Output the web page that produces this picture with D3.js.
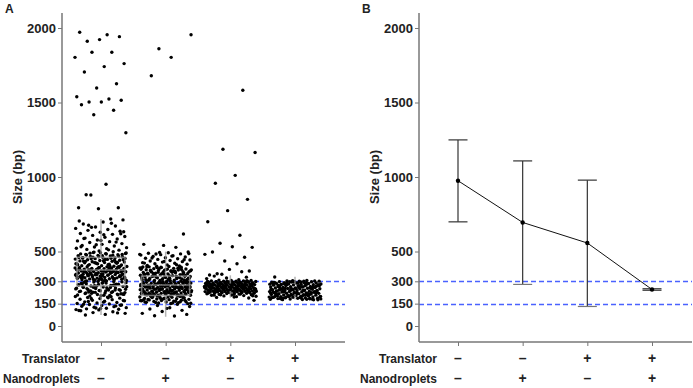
<!DOCTYPE html>
<html><head><meta charset="utf-8">
<script src="https://cdn.jsdelivr.net/npm/d3@7"></script>
<style>
body{margin:0;background:#fff;}
svg text{font-family:"Liberation Sans",Arial,sans-serif;font-weight:bold;}
</style></head>
<body><svg id="c" width="693" height="388"></svg>
<script>
const groups = ["g1","g2","g3","g4"];
const translator = ["–","–","+","+"];
const nanodroplets = ["–","+","–","+"];
const yTicks = [0,150,300,500,1000,1500,2000];
const refLines = [150,300];

// Panel A: individual fragment sizes (bp)
const sizesG1 = [1803,1955,1911,1942,1922,1971,1837,1837,1761,1741,1705,1626,1597,1539,1523,1503,1515,1503,1485,1448,1418,1297,951,881,794,787,794,718,879,
712,698,685,671,664,655,648,642,636,629,621,615,608,601,596,590,584,577,571,566,560,553,548,541,537,530,526,519,514,509,503,705,690,662,633,612,587,563,545,522,511,676,619,574,532,
498,493,487,486,481,479,474,472,470,466,463,461,458,457,452,449,447,445,441,440,437,434,431,430,426,424,421,419,416,414,412,409,405,404,401,496,490,483,477,468,465,459,454,451,444,438,435,428,423,418,411,407,402,492,484,475,462,453,446,433,427,417,410,403,489,480,471,456,442,425,
399,397,396,394,392,391,389,387,386,384,382,381,379,377,376,374,372,370,369,367,366,364,362,361,359,357,355,354,352,350,349,347,345,344,342,340,338,337,335,333,331,330,328,326,324,323,321,319,317,316,314,312,310,309,307,305,303,302,398,393,388,383,378,373,368,363,358,353,348,343,339,334,329,325,320,315,311,306,301,395,385,375,365,356,346,336,327,318,308,390,371,351,332,313,380,360,341,322,304,371,358,346,333,389,377,362,350,339,
298,295,291,288,284,281,279,275,272,268,265,262,259,255,252,249,246,243,240,237,233,230,227,224,221,218,214,211,208,205,202,296,289,283,276,270,263,257,251,244,238,231,225,219,212,206,293,280,267,254,241,228,216,203,286,273,260,247,235,222,209,299,278,258,236,215,290,264,242,226,
198,194,191,187,184,180,177,173,169,166,162,158,155,151,148,144,141,137,133,130,126,123,119,115,112,108,104,196,185,171,160,146,135,121,110,189,164,139,117,102,96,90,85,78,74,88];

const sizesG2 = [1861,1955,1803,1680,617,541,548,528,483,
497,492,488,484,479,476,471,467,463,458,455,451,447,443,440,436,432,429,425,421,418,414,410,407,403,494,481,469,456,445,433,422,411,401,486,
399,397,394,392,390,387,385,383,380,378,376,373,371,369,366,364,362,359,357,355,352,350,348,345,343,341,338,336,334,331,329,327,324,322,320,317,315,313,310,308,306,303,301,398,391,384,377,370,363,356,349,342,335,328,321,314,307,302,395,381,367,353,339,325,311,388,360,332,304,374,346,318,396,368,340,312,382,354,326,305,389,361,333,309,375,347,319,393,365,337,316,379,351,323,
299,297,296,294,293,291,290,288,287,285,284,282,281,279,278,276,275,273,272,270,269,267,266,264,263,261,260,258,257,255,254,252,251,249,248,246,245,243,242,240,239,237,236,234,233,231,230,228,227,225,224,222,221,219,218,216,215,213,212,210,209,207,206,204,203,201,298,292,286,280,274,268,262,256,250,244,238,232,226,220,214,208,202,295,283,271,259,247,235,223,211,289,277,265,253,241,229,217,205,296,284,272,260,248,236,224,212,200,291,279,267,255,243,231,219,207,287,263,239,215,293,269,245,221,281,257,233,209,
199,197,195,193,191,189,187,185,183,181,179,177,175,173,171,169,167,165,163,161,159,157,155,153,151,198,190,182,174,166,158,150,194,178,162,186,170,154,196,172,184,160,
146,138,131,122,114,105,97,85,67,69,78,118];

const sizesG3 = [1582,1186,1164,1011,958,850,774,700,609,555,528,532,497,461,436,481,418,351,369,380,342,364,347,172,195,335,328,322,318,
310,308,306,305,303,302,300,299,298,297,296,295,294,293,292,291,290,289,288,287,286,285,284,283,282,281,280,279,278,277,276,275,274,273,272,271,270,269,268,267,266,265,264,263,262,261,260,259,258,257,256,255,254,253,252,251,250,249,248,247,246,245,244,243,242,241,240,239,238,237,236,235,234,233,232,231,230,229,228,227,226,225,224,223,222,221,220,218,216,214,212,210,208,206,204,202,200,
301,298,296,293,291,288,286,283,281,278,276,273,271,268,266,263,261,258,256,253,251,248,246,243,241,299,295,290,285,280,275,270,265,260,255,250,245,240,235,230,225,219,213,207,297,292,287,282,277,272,267,262,257,252,247,242,237,232,227,221,215,209,203,294,284,274,264,254,244,234,224,289,279,269,259,249,239,229,304,300,296,289,281,273,265,257,249,241,233,197,192,188];

const sizesG4 = [329,
305,303,301,300,298,297,295,294,292,291,289,288,286,285,283,282,280,279,277,276,274,273,271,270,268,267,265,264,262,261,259,258,256,255,253,252,250,249,247,246,244,243,241,240,238,237,235,234,232,231,229,228,226,225,223,222,220,219,217,216,214,213,211,210,208,207,205,204,202,201,199,198,196,195,193,192,190,189,187,186,184,183,181,180,178,177,
302,296,290,284,278,272,266,260,254,248,242,236,230,224,218,212,206,200,194,188,182,176,
299,293,287,281,275,269,263,257,251,245,239,233,227,221,215,209,203,197,191,185,179,
304,287,270,253,236,219,202,185,298,281,264,247,230,213,196,179,292,275,258,241,224,207,190,
301,284,267,250,233,216,199,182,295,278,261,244,227,210,193,176,289,272,255,238,221,204,187];

// Box plot summaries (bp)
const boxQ1 = [270,205,235,215];
const boxMed = [376,275,262,255];
const boxQ3 = [461,335,285,280];
const whiskLo = [74,62,190,178];
const whiskHi = [718,499,340,330];

// Panel B: mean and error range (bp)
const meanB = [975,695,557,245];
const errLo = [699,279,131,240];
const errHi = [1249,1108,979,250];

const svg = d3.select("#c");
const axisCol = "#777";
const txtCol = "#222";

function panel(opts){
  const g = svg.append("g");
  const y = d3.scaleLinear().domain([0,2000]).range([326,28]);
  const x = d3.scalePoint().domain(groups).range([opts.x0, opts.x0 + 194]);
  // ref lines
  refLines.forEach(v=>{
    g.append("line").attr("x1",opts.ax).attr("x2",opts.right)
     .attr("y1",Math.round(y(v))+0.5).attr("y2",Math.round(y(v))+0.5)
     .attr("stroke","#4a62ff").attr("stroke-width",1.4).attr("stroke-dasharray","5,3");
  });
  // y axis
  const ya = g.append("g").attr("transform",`translate(${opts.ax},0)`)
    .call(d3.axisLeft(y).tickValues(yTicks).tickSize(4).tickPadding(2).tickFormat(d3.format("d")));
  ya.select(".domain").remove();
  ya.selectAll(".tick line").attr("stroke",axisCol);
  ya.selectAll(".tick text").attr("fill",txtCol).style("font-size","13px");
  g.append("line").attr("x1",opts.ax).attr("x2",opts.ax).attr("y1",13).attr("y2",342)
    .attr("stroke",axisCol).attr("stroke-width",1.5);
  // x axis
  const xa = g.append("g").attr("transform","translate(0,342)")
    .call(d3.axisBottom(x).tickSize(4).tickFormat(""));
  xa.select(".domain").remove();
  xa.selectAll(".tick line").attr("stroke",axisCol);
  g.append("line").attr("x1",opts.ax).attr("x2",opts.right).attr("y1",342).attr("y2",342)
    .attr("stroke",axisCol).attr("stroke-width",1.5);
  // y label
  g.append("text").attr("transform",`translate(${opts.ax-40},177) rotate(-90)`)
    .attr("text-anchor","middle").attr("fill",txtCol).style("font-size","13px").text("Size (bp)");
  // panel letter
  g.append("text").attr("x",opts.letterX).attr("y",13).attr("fill",txtCol).style("font-size","12px").text(opts.letter);
  // row labels
  g.append("text").attr("x",opts.ax+18).attr("y",363).attr("text-anchor","end").attr("fill",txtCol)
    .style("font-size","12.5px").attr("textLength",58).attr("lengthAdjust","spacingAndGlyphs").text("Translator");
  g.append("text").attr("x",opts.ax+18).attr("y",383).attr("text-anchor","end").attr("fill",txtCol)
    .style("font-size","12.5px").attr("textLength",77).attr("lengthAdjust","spacingAndGlyphs").text("Nanodroplets");
  g.selectAll(".tr").data(groups).enter().append("text")
    .attr("x",d=>x(d)).attr("y",363).attr("text-anchor","middle").attr("fill",txtCol).style("font-size","14px")
    .text((d,i)=>translator[i]);
  g.selectAll(".nd").data(groups).enter().append("text")
    .attr("x",d=>x(d)).attr("y",383).attr("text-anchor","middle").attr("fill",txtCol).style("font-size","14px")
    .text((d,i)=>nanodroplets[i]);
  return {g,x,y};
}

// Panel A
const A = panel({x0:101, ax:62, right:345, letter:"A", letterX:5});
const bw = 24;
const allSizes = [sizesG1,sizesG2,sizesG3,sizesG4];
allSizes.forEach((arr,gi)=>{
  const cx = A.x(groups[gi]);
  A.g.append("g").selectAll("circle").data(arr).enter().append("circle")
    .attr("cx",(d,i)=>cx + (((i*0.6180339887 + gi*0.37) % 1) - 0.5)*52)
    .attr("cy",d=>A.y(d)).attr("r",1.7).attr("fill","#000");
});
groups.forEach((k,i)=>{
  const cx = A.x(k);
  const bg = A.g.append("g").attr("stroke","#999").attr("stroke-width",1.5).attr("fill","none").attr("stroke-opacity",0.75);
  bg.append("line").attr("x1",cx).attr("x2",cx).attr("y1",A.y(whiskHi[i])).attr("y2",A.y(boxQ3[i]));
  bg.append("line").attr("x1",cx).attr("x2",cx).attr("y1",A.y(boxQ1[i])).attr("y2",A.y(whiskLo[i]));
  if (i < 2) {
    bg.append("rect").attr("x",cx-bw).attr("width",2*bw).attr("y",A.y(boxQ3[i])).attr("height",A.y(boxQ1[i])-A.y(boxQ3[i]));
    bg.append("line").attr("x1",cx-bw).attr("x2",cx+bw).attr("y1",A.y(boxMed[i])).attr("y2",A.y(boxMed[i]));
  }
});

// Panel B
const B = panel({x0:458, ax:419, right:692, letter:"B", letterX:362});
groups.forEach((k,i)=>{
  const cx = B.x(k);
  const eg = B.g.append("g").attr("stroke","#333").attr("stroke-width",1.2);
  eg.append("line").attr("x1",cx).attr("x2",cx).attr("y1",B.y(errHi[i])).attr("y2",B.y(errLo[i]));
  eg.append("line").attr("x1",cx-9.5).attr("x2",cx+9.5).attr("y1",B.y(errHi[i])).attr("y2",B.y(errHi[i]));
  eg.append("line").attr("x1",cx-9.5).attr("x2",cx+9.5).attr("y1",B.y(errLo[i])).attr("y2",B.y(errLo[i]))
    .attr("stroke", i===1||i===2 ? "#777" : "#333");
});
B.g.append("path").datum(meanB)
  .attr("d",d3.line().x((d,i)=>B.x(groups[i])).y(d=>B.y(d)))
  .attr("fill","none").attr("stroke","#111").attr("stroke-width",1);
B.g.selectAll(".m").data(meanB).enter().append("circle")
  .attr("cx",(d,i)=>B.x(groups[i])).attr("cy",d=>B.y(d)).attr("r",2.2).attr("fill","#000");
</script></body></html>
